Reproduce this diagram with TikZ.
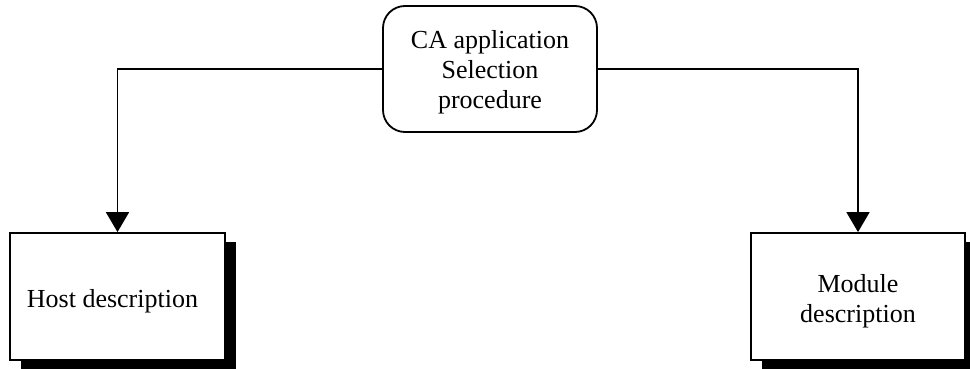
\documentclass[tikz,border=0pt]{standalone}
\usepackage{fontspec}
\setmainfont{Liberation Serif}
\usetikzlibrary{arrows.meta,shadows}
\begin{document}
\begin{tikzpicture}[x=1pt,y=1pt,
  lbl/.style={font=\fontsize{26}{30}\selectfont, align=center, inner sep=0pt},
  procbox/.style={draw, line width=1.8pt, rounded corners=22pt, fill=white,
    minimum width=214pt, minimum height=126pt, inner sep=0pt},
  descbox/.style={draw, line width=1.8pt, fill=white,
    minimum width=215pt, minimum height=127pt, inner sep=0pt,
    general shadow={fill=black, shadow xshift=11pt, shadow yshift=-9pt}},
  conn/.style={line width=1.8pt, -{Triangle[width=23pt,length=20pt]}}]
\useasboundingbox (0,0) rectangle (970,-369);
\node[procbox] (proc) at (490,-69) {};
\node[descbox] (host) at (117.5,-296.5) {};
\node[descbox, minimum width=214pt] (mod) at (858,-296.5) {};
\node[lbl] (proclbl) at ([yshift=-3pt]proc.center) {CA application\\Selection\\procedure};
\node[lbl] (hostlbl) at ([shift={(-5pt,-5pt)}]host.center) {Host description};
\node[lbl] (modlbl) at ([yshift=-5pt]mod.center) {Module\\description};
\draw[conn] (proc.west) -| (host.north);
\draw[conn] (proc.east) -| (mod.north);
\end{tikzpicture}
\end{document}
